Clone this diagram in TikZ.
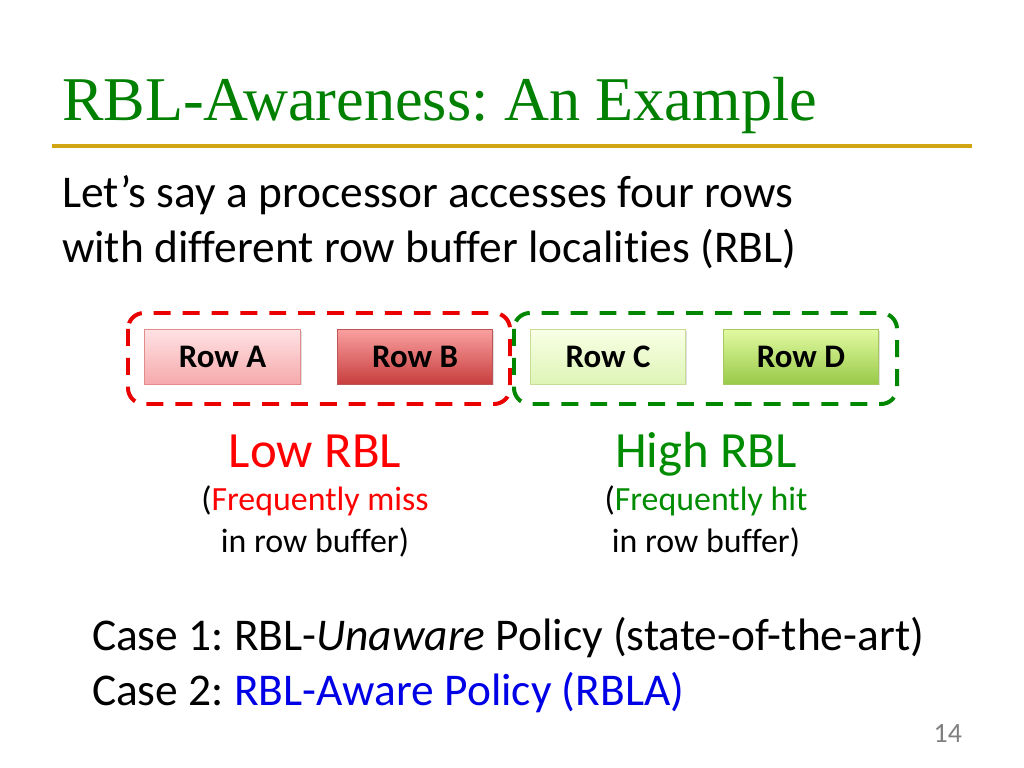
\documentclass[tikz,border=0pt]{standalone}
\usepackage{fontspec}
\setmainfont[Ligatures={NoCommon}]{Carlito}
\newfontfamily\titlefont{Liberation Serif}
\usetikzlibrary{shadows}
\frenchspacing
\definecolor{titlegreen}{RGB}{0,128,0}
\definecolor{goldline}{RGB}{210,165,20}
\definecolor{lowred}{RGB}{255,0,0}
\definecolor{highgreen}{RGB}{0,140,0}
\definecolor{caseblue}{RGB}{0,0,230}
\definecolor{pagegray}{RGB}{128,128,128}
\definecolor{grpred}{RGB}{235,0,0}
\definecolor{grpgreen}{RGB}{0,135,0}
\definecolor{aTop}{RGB}{255,226,229}
\definecolor{aBot}{RGB}{246,170,172}
\definecolor{aBrd}{RGB}{226,140,140}
\definecolor{bTop}{RGB}{250,160,160}
\definecolor{bBot}{RGB}{200,62,62}
\definecolor{bBrd}{RGB}{190,85,85}
\definecolor{cTop}{RGB}{249,255,230}
\definecolor{cBot}{RGB}{222,245,182}
\definecolor{cBrd}{RGB}{200,220,150}
\definecolor{dTop}{RGB}{226,250,162}
\definecolor{dBot}{RGB}{152,202,72}
\definecolor{dBrd}{RGB}{165,200,95}
\begin{document}
\begin{tikzpicture}[x=1bp,y=-1bp,
  txt/.style={inner sep=0pt,outer sep=0pt},
  rowbox/.style={draw,line width=0.8pt,minimum width=156,minimum height=55,inner sep=0pt,
    font=\fontsize{33}{38}\selectfont\bfseries,
    drop shadow={shadow xshift=1.5pt,shadow yshift=-1.5pt,opacity=0.25}},
  grpbox/.style={line width=4pt,rounded corners=16,dash pattern=on 17pt off 12pt},
  bigline/.style={txt,font=\fontsize{45.6}{54}\selectfont},
  rbl/.style={txt,font=\fontsize{51}{60}\selectfont},
  sub/.style={txt,font=\fontsize{34}{40}\selectfont}]
\useasboundingbox (0,0) rectangle (1024,768);
\fill[white] (0,0) rectangle (1024,768);

\node[txt,anchor=base west,text=titlegreen,font=\titlefont\fontsize{62.5}{70}\selectfont] (title) at (62,120) {RBL-Awareness: An Example};
\coordinate (lineL) at (52,146);
\coordinate (lineR) at (972,146);
\draw[goldline,line width=3.5pt] (lineL) -- (lineR);

\node[bigline,anchor=base west] (intro1) at (62,207) {Let’s say a processor accesses four rows};
\node[bigline,anchor=base west] (intro2) at (62,262) {with different row buffer localities (RBL)};

\draw[grpbox,grpred] (128,313) rectangle (510,404);
\draw[grpbox,grpgreen] (514,313) rectangle (897,404);

\node[rowbox,draw=aBrd,top color=aTop,bottom color=aBot] (rowA) at (222.5,356.5) {Row A};
\node[rowbox,draw=bBrd,top color=bTop,bottom color=bBot] (rowB) at (415,356.5) {Row B};
\node[rowbox,draw=cBrd,top color=cTop,bottom color=cBot] (rowC) at (608,356.5) {Row C};
\node[rowbox,draw=dBrd,top color=dTop,bottom color=dBot] (rowD) at (801,356.5) {Row D};

\node[rbl,anchor=base,text=lowred] (low) at (315,467) {Low RBL};
\node[sub,anchor=base] (low1) at (315,510) {(\textcolor{lowred}{Frequently miss}};
\node[sub,anchor=base] (low2) at (315,552) {in row buffer)};

\node[rbl,anchor=base,text=highgreen] (high) at (706,467) {High RBL};
\node[sub,anchor=base] (high1) at (706,510) {(\textcolor{highgreen}{Frequently hit}};
\node[sub,anchor=base] (high2) at (706,552) {in row buffer)};

\node[bigline,anchor=base west] (case1) at (92,650) {Case 1: RBL-\textit{Unaware} Policy (state-of-the-art)};
\node[bigline,anchor=base west] (case2) at (92,705) {Case 2: \textcolor{caseblue}{RBL-Aware Policy (RBLA)}};

\node[txt,anchor=base east,text=pagegray,font=\fontsize{28}{32}\selectfont] (page) at (962,742) {14};
\end{tikzpicture}
\end{document}
